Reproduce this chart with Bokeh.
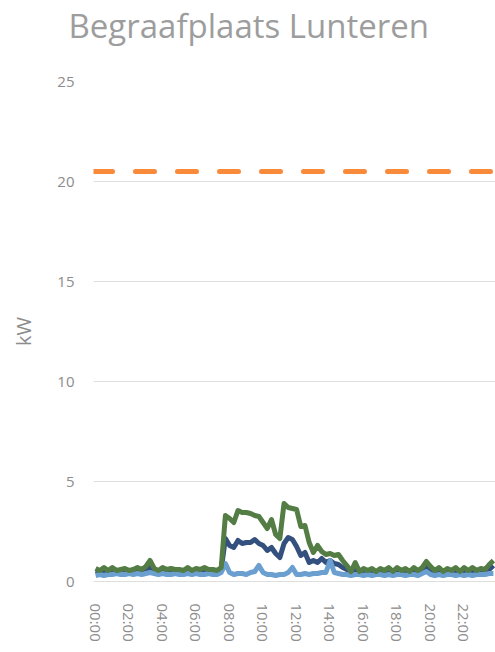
import numpy as np
from bokeh.plotting import figure
from bokeh.models import FixedTicker, Span, Title
from bokeh.embed import file_html
from bokeh.resources import INLINE

# 15-minute readings (kW), 96 per day
green = [0.65, 0.55, 0.7, 0.55, 0.7, 0.55, 0.6, 0.65, 0.55, 0.6, 0.7, 0.6, 0.75, 1.05, 0.65, 0.55,
         0.7, 0.6, 0.65, 0.6, 0.6, 0.55, 0.7, 0.55, 0.65, 0.6, 0.7, 0.6, 0.6, 0.55, 0.7,
         3.3, 3.15, 2.95, 3.55, 3.45, 3.45, 3.4, 3.3, 3.25, 2.95, 2.65, 3.1, 2.35, 2.15,
         3.9, 3.7, 3.65, 3.6, 2.75, 2.8, 1.95, 1.45, 1.8, 1.5, 1.35, 1.4, 1.3, 1.35, 1.05,
         0.8, 0.5, 0.95, 0.5, 0.65, 0.55, 0.65, 0.5, 0.65, 0.55, 0.7, 0.5, 0.7, 0.55, 0.65,
         0.5, 0.7, 0.55, 0.7, 1.0, 0.75, 0.55, 0.7, 0.5, 0.65, 0.55, 0.7, 0.5, 0.7, 0.55,
         0.7, 0.55, 0.65, 0.6, 0.85, 1.05]
dark_blue = [0.55, 0.5, 0.55, 0.5, 0.55, 0.5, 0.5, 0.55, 0.5, 0.5, 0.55, 0.5, 0.55, 0.7, 0.55, 0.5,
             0.55, 0.5, 0.55, 0.5, 0.5, 0.5, 0.55, 0.5, 0.55, 0.5, 0.55, 0.5, 0.5, 0.5, 0.6,
             2.15, 1.8, 1.7, 2.05, 1.9, 1.95, 1.95, 2.1, 1.9, 1.8, 1.55, 1.7, 1.4, 1.2,
             1.9, 2.2, 2.1, 1.75, 1.3, 1.45, 0.95, 1.05, 0.95, 1.15, 0.95, 1.05, 0.9, 0.85, 0.7,
             0.6, 0.45, 0.6, 0.45, 0.5, 0.5, 0.5, 0.45, 0.5, 0.5, 0.55, 0.45, 0.55, 0.5, 0.5,
             0.45, 0.55, 0.5, 0.55, 0.75, 0.6, 0.5, 0.55, 0.45, 0.5, 0.5, 0.55, 0.45, 0.55, 0.5,
             0.55, 0.5, 0.5, 0.5, 0.6, 0.8]
light_blue = [0.3, 0.35, 0.3, 0.35, 0.35, 0.4, 0.35, 0.35, 0.4, 0.35, 0.4, 0.35, 0.4, 0.45, 0.4, 0.35,
              0.4, 0.35, 0.35, 0.4, 0.35, 0.35, 0.4, 0.35, 0.4, 0.35, 0.35, 0.4, 0.35, 0.35, 0.45,
              0.9, 0.45, 0.35, 0.4, 0.4, 0.35, 0.45, 0.5, 0.8, 0.45, 0.35, 0.35, 0.3, 0.35,
              0.35, 0.45, 0.7, 0.35, 0.35, 0.4, 0.35, 0.4, 0.4, 0.45, 0.45, 1.05, 0.45, 0.4, 0.35,
              0.35, 0.3, 0.35, 0.35, 0.3, 0.35, 0.3, 0.35, 0.35, 0.3, 0.35, 0.3, 0.35, 0.35, 0.3,
              0.35, 0.35, 0.3, 0.4, 0.5, 0.35, 0.3, 0.35, 0.3, 0.35, 0.35, 0.3, 0.35, 0.3, 0.35,
              0.3, 0.35, 0.35, 0.35, 0.4, 0.4]
limit_kw = 20.5
title_text = "Begraafplaats Lunteren"

tick_positions = [0, 8, 16, 24, 32, 40, 48, 56, 64, 72, 80, 88]
tick_labels = ["00:00", "02:00", "04:00", "06:00", "08:00", "10:00",
               "12:00", "14:00", "16:00", "18:00", "20:00", "22:00"]
y_ticks = [0, 5, 10, 15, 20, 25]

x = np.arange(len(green))

GREY = "#8c8c8c"
FONT = "Open Sans"

p = figure(frame_width=402, frame_height=500, output_backend="svg", toolbar_location=None,
           x_range=(-0.5, len(green) - 0.5), y_range=(0, 25),
           min_border_left=93, min_border_right=0, min_border_top=0, min_border_bottom=0,
           title=title_text)
p.outline_line_color = None
p.background_fill_color = "white"

p.title.text_font = FONT
p.title.text_font_size = "33px"
p.title.text_font_style = "normal"
p.title.text_color = "#9d9d9d"
p.title.align = "left"
p.title.offset = -25
p.title.standoff = 0

# spacer between title and plot area
p.add_layout(Title(text=" ", standoff=31, text_font_size="1px", text_color="white"), "above")

p.line(x, dark_blue, line_color="#34507f", line_width=5, line_join="round")
p.line(x, light_blue, line_color="#6a9fd0", line_width=5, line_join="round")
p.line(x, green, line_color="#547d45", line_width=5, line_join="round")
p.add_layout(Span(location=limit_kw, dimension="width", line_color="#f98a3a",
                  line_width=5, line_dash="19 23", line_cap="round"))

p.xgrid.grid_line_color = None
p.ygrid.grid_line_color = "#dedede"
p.ygrid.grid_line_width = 1
p.ygrid.ticker = FixedTicker(ticks=y_ticks)

p.yaxis.ticker = FixedTicker(ticks=y_ticks)
p.yaxis.axis_line_color = None
p.yaxis.major_tick_line_color = None
p.yaxis.minor_tick_line_color = None
p.yaxis.major_label_standoff = 13
p.yaxis.major_label_text_font = FONT
p.yaxis.major_label_text_font_size = "15px"
p.yaxis.major_label_text_color = GREY
p.yaxis.axis_label = "kW"
p.yaxis.axis_label_text_font = FONT
p.yaxis.axis_label_text_font_size = "20px"
p.yaxis.axis_label_text_font_style = "normal"
p.yaxis.axis_label_text_color = GREY
p.yaxis.axis_label_standoff = 17

p.xaxis.ticker = FixedTicker(ticks=tick_positions)
p.xaxis.major_label_overrides = dict(zip(tick_positions, tick_labels))
p.xaxis.major_label_orientation = "vertical"
p.xaxis.axis_line_color = "#dedede"
p.xaxis.major_tick_line_color = None
p.xaxis.minor_tick_line_color = None
p.xaxis.major_label_standoff = 16
p.xaxis.major_label_text_font = FONT
p.xaxis.major_label_text_font_size = "15px"
p.xaxis.major_label_text_color = GREY

open("out.html", "w").write(file_html(p, INLINE))
